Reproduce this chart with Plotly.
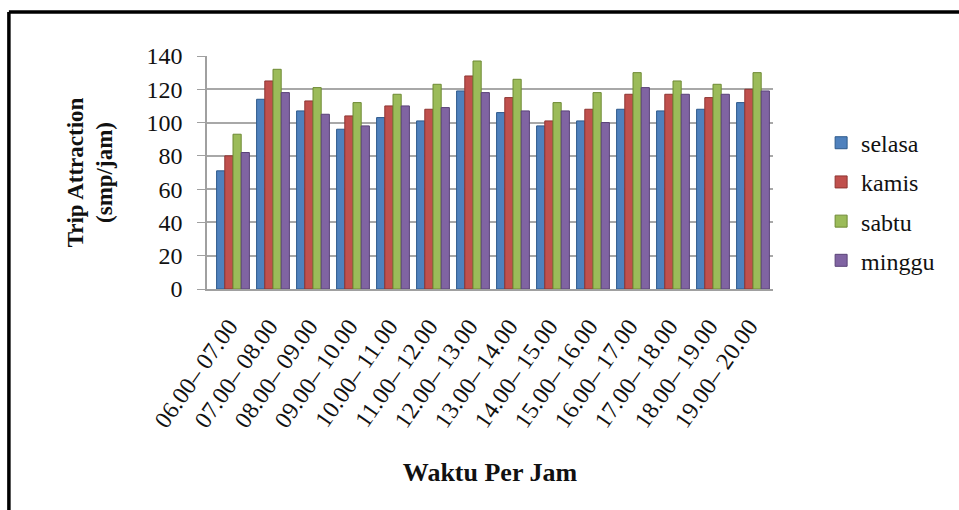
import plotly.graph_objects as go

# Hourly intervals
periods = [
    "06.00– 07.00", "07.00– 08.00", "08.00– 09.00", "09.00– 10.00",
    "10.00– 11.00", "11.00– 12.00", "12.00– 13.00", "13.00– 14.00",
    "14.00– 15.00", "15.00– 16.00", "16.00– 17.00", "17.00– 18.00",
    "18.00– 19.00", "19.00– 20.00",
]

# Trip attraction (smp/jam) per day
selasa = [71, 114, 107, 96, 103, 101, 119, 106, 98, 101, 108, 107, 108, 112]
kamis = [80, 125, 113, 104, 110, 108, 128, 115, 101, 108, 117, 117, 115, 120]
sabtu = [93, 132, 121, 112, 117, 123, 137, 126, 112, 118, 130, 125, 123, 130]
minggu = [82, 118, 105, 98, 110, 109, 118, 107, 107, 100, 121, 117, 117, 119]

series = [
    ("selasa", selasa, "#4F81BD", "#2E5A8C"),
    ("kamis", kamis, "#C0504D", "#8E3532"),
    ("sabtu", sabtu, "#9BBB59", "#6E8A35"),
    ("minggu", minggu, "#8064A2", "#5A4378"),
]

FONT = "Liberation Serif"
INK = "#111111"

fig = go.Figure()
for i, (name, vals, color, edge) in enumerate(series):
    fig.add_trace(go.Bar(
        x=periods, y=vals, name=name,
        marker=dict(color=color, line=dict(color=edge, width=1)),
        legendgroup=f"g{i}",
    ))

fig.update_layout(
    width=959, height=510,
    margin=dict(l=207, r=186, t=56, b=221),
    paper_bgcolor="white", plot_bgcolor="white",
    barmode="group", bargap=0.18, bargroupgap=0.0,
    font=dict(family=FONT, color=INK, size=24),
    showlegend=True,
    legend=dict(
        x=1.085, xanchor="left", y=0.375, yanchor="middle",
        font=dict(family=FONT, size=24, color=INK),
        tracegroupgap=5, itemwidth=30,
        bgcolor="rgba(0,0,0,0)",
    ),
    xaxis=dict(
        range=[-0.65, 13.5],
        tickangle=-55, showgrid=False,
        showline=True, linecolor="#A0A0A0", linewidth=1.5,
        ticks="", ticklabelstandoff=12, ticklabelshift=-4,
        tickfont=dict(family=FONT, size=24, color=INK),
        title=dict(text="<b>Waktu Per Jam</b>", standoff=31,
                   font=dict(family=FONT, size=26, color=INK)),
    ),
    yaxis=dict(
        range=[0, 140], dtick=20, tick0=0,
        showgrid=True, gridcolor="#A8A8A8", gridwidth=1.5,
        showline=True, linecolor="#A0A0A0", linewidth=1.5,
        ticks="outside", ticklen=8, tickcolor="#A0A0A0",
        ticklabelstandoff=10,
        tickfont=dict(family=FONT, size=24, color=INK),
        zeroline=False,
        title=dict(text="<b>Trip Attraction<br>(smp/jam)</b>", standoff=27,
                   font=dict(family=FONT, size=23, color=INK)),
    ),
)

# Outer frame along the top and left edges
fig.add_shape(type="line", xref="paper", yref="paper",
              x0=-0.35, x1=1.4, y0=1.189, y1=1.189,
              line=dict(color="black", width=3.5))
fig.add_shape(type="line", xref="paper", yref="paper",
              x0=-0.35, x1=-0.35, y0=1.189, y1=-1.0,
              line=dict(color="black", width=3.5))

fig.write_html("out.html")
